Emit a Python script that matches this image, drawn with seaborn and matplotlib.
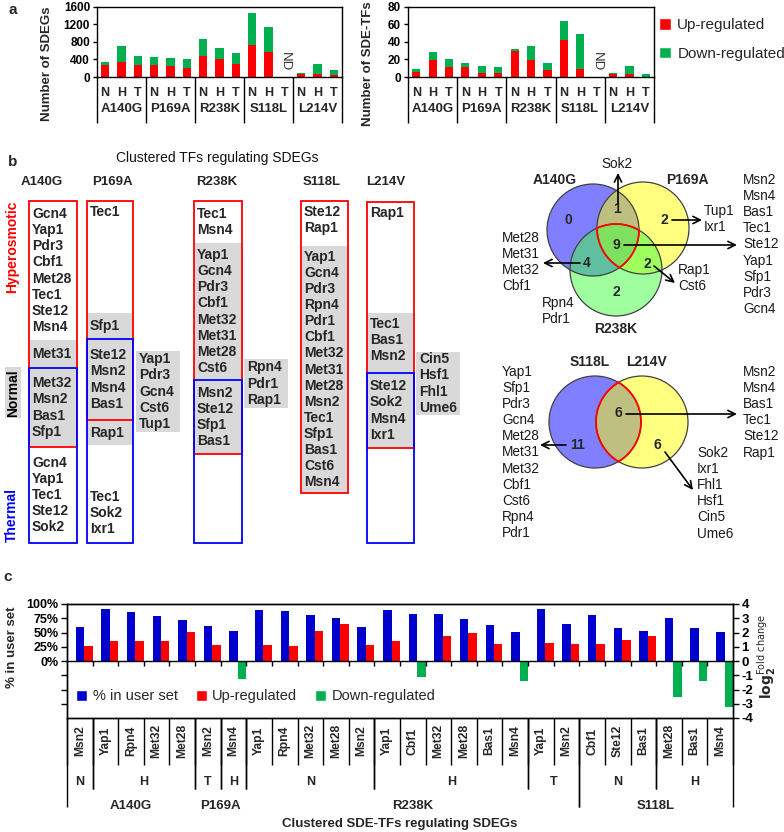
import numpy as np
import pandas as pd
import matplotlib
matplotlib.use('Agg')
import matplotlib.pyplot as plt
import seaborn as sns
from matplotlib.patches import Rectangle, Circle, Patch
from matplotlib.transforms import blended_transform_factory

sns.set_theme(style='ticks')
plt.rcParams['font.family'] = ['Liberation Sans', 'DejaVu Sans']
plt.rcParams['axes.edgecolor'] = 'black'
plt.rcParams['axes.linewidth'] = 1.0
plt.rcParams['xtick.color'] = 'black'
plt.rcParams['ytick.color'] = 'black'

W, H = 784, 832
RED = '#FF0000'
GREEN = '#00B050'
BLUE = '#0000CC'
GREY = '#D9D9D9'

# ---------------- data: panel a ----------------
mutations = ['A140G', 'P169A', 'R238K', 'S118L', 'L214V']
stresses = ['N', 'H', 'T']
sdeg_up = [270, 350, 270, 270, 240, 210, 470, 410, 300, 730, 560, np.nan, 60, 60, 40]
sdeg_total = [350, 700, 490, 460, 430, 400, 860, 660, 550, 1470, 1150, np.nan, 90, 290, 150]
tf_up = [6, 19, 11, 11, 5, 5, 30, 19, 8, 42, 9, np.nan, 4, 4, 0]
tf_total = [9, 28, 21, 16, 12, 11, 32, 35, 16, 64, 49, np.nan, 5, 12, 3]
nd_index = 11

# ---------------- data: panel b ----------------
A140G_hyper_only = ['Gcn4', 'Yap1', 'Pdr3', 'Cbf1', 'Met28', 'Tec1', 'Ste12', 'Msn4']
A140G_hyper_normal = ['Met31']
A140G_all = ['Met32', 'Msn2', 'Bas1', 'Sfp1']
A140G_thermal_only = ['Gcn4', 'Yap1', 'Tec1', 'Ste12', 'Sok2']
P169A_hyper_only = ['Tec1']
P169A_hyper_normal = ['Sfp1']
P169A_all = ['Ste12', 'Msn2', 'Msn4', 'Bas1']
P169A_normal_thermal = ['Rap1']
P169A_thermal_only = ['Tec1', 'Sok2', 'Ixr1']
P169A_normal_only = ['Yap1', 'Pdr3', 'Gcn4', 'Cst6', 'Tup1']
R238K_hyper_only = ['Tec1', 'Msn4']
R238K_hyper_normal = ['Yap1', 'Gcn4', 'Pdr3', 'Cbf1', 'Met32', 'Met31', 'Met28', 'Cst6']
R238K_all = ['Msn2', 'Ste12', 'Sfp1', 'Bas1']
R238K_normal_only = ['Rpn4', 'Pdr1', 'Rap1']
S118L_hyper_only = ['Ste12', 'Rap1']
S118L_hyper_normal = ['Yap1', 'Gcn4', 'Pdr3', 'Rpn4', 'Pdr1', 'Cbf1', 'Met32', 'Met31',
                      'Met28', 'Msn2', 'Tec1', 'Sfp1', 'Bas1', 'Cst6', 'Msn4']
L214V_hyper_only = ['Rap1']
L214V_hyper_normal = ['Tec1', 'Bas1', 'Msn2']
L214V_all = ['Ste12', 'Sok2', 'Msn4', 'Ixr1']
L214V_normal_only = ['Cin5', 'Hsf1', 'Fhl1', 'Ume6']

v1_sets = ['A140G', 'P169A', 'R238K']
v1_A_only = []
v1_AP = ['Sok2']
v1_P_only = ['Tup1', 'Ixr1']
v1_APR = ['Msn2', 'Msn4', 'Bas1', 'Tec1', 'Ste12', 'Yap1', 'Sfp1', 'Pdr3', 'Gcn4']
v1_AR = ['Met28', 'Met31', 'Met32', 'Cbf1']
v1_PR = ['Rap1', 'Cst6']
v1_R_only = ['Rpn4', 'Pdr1']
v2_sets = ['S118L', 'L214V']
v2_S_only = ['Yap1', 'Sfp1', 'Pdr3', 'Gcn4', 'Met28', 'Met31', 'Met32', 'Cbf1', 'Cst6', 'Rpn4', 'Pdr1']
v2_SL = ['Msn2', 'Msn4', 'Bas1', 'Tec1', 'Ste12', 'Rap1']
v2_L_only = ['Sok2', 'Ixr1', 'Fhl1', 'Hsf1', 'Cin5', 'Ume6']

# ---------------- data: panel c ----------------
c_mut = ['A140G'] * 5 + ['P169A'] * 2 + ['R238K'] * 13 + ['S118L'] * 6
c_stress = ['N', 'H', 'H', 'H', 'H', 'T', 'H', 'N', 'N', 'N', 'N', 'N', 'H', 'H', 'H', 'H', 'H', 'H',
            'T', 'T', 'N', 'N', 'N', 'H', 'H', 'H']
c_tf = ['Msn2', 'Yap1', 'Rpn4', 'Met32', 'Met28', 'Msn2', 'Msn4', 'Yap1', 'Rpn4', 'Met32', 'Met28',
        'Msn2', 'Yap1', 'Cbf1', 'Met32', 'Met28', 'Bas1', 'Msn4', 'Yap1', 'Msn2', 'Cbf1', 'Ste12',
        'Bas1', 'Met28', 'Bas1', 'Msn4']
pct_user = [59, 92, 86, 79, 72, 61, 52, 90, 88, 81, 75, 59, 90, 82, 83, 73, 63, 51, 92, 65, 81, 58,
            53, 76, 58, 51]
log2fc = [1.02, 1.37, 1.37, 1.37, 2.01, 1.11, -1.25, 1.11, 1.02, 2.08, 2.63, 1.11, 1.37, -1.13,
          1.76, 1.95, 1.16, -1.42, 1.23, 1.16, 1.16, 1.49, 1.78, -2.55, -1.42, -3.2]
pct_ticks = ['0%', '25%', '50%', '75%', '100%']

# ---------------- figure ----------------
fig = plt.figure(figsize=(W / 100, H / 100), dpi=100)
ax_o = fig.add_axes([0, 0, 1, 1])
ax_o.set_xlim(0, W)
ax_o.set_ylim(H, 0)
ax_o.axis('off')


def add_axes_px(x0, y0, x1, y1):
    return fig.add_axes([x0 / W, 1 - y1 / H, (x1 - x0) / W, (y1 - y0) / H])


def vline(trans, x, y0, y1, lw=1.0):
    ax_o.plot([x, x], [y0, y1], transform=trans, color='black', lw=lw, clip_on=False,
              solid_capstyle='butt')


# ---------------- panel a ----------------
ax_a1 = add_axes_px(97, 7, 342, 77)
ax_a2 = add_axes_px(408, 7, 654, 77)
cond_idx = list(range(len(mutations) * len(stresses)))


def panel_a(ax, up, total, ymax, step):
    df = pd.DataFrame({'idx': cond_idx, 'up': up, 'total': total})
    sns.barplot(data=df, x='idx', y='total', order=cond_idx, color=GREEN, saturation=1,
                width=0.5, errorbar=None, linewidth=0, ax=ax)
    sns.barplot(data=df, x='idx', y='up', order=cond_idx, color=RED, saturation=1,
                width=0.5, errorbar=None, linewidth=0, ax=ax)
    ax.set_xlim(-0.5, len(cond_idx) - 0.5)
    ax.set_ylim(0, ymax)
    ax.set_xticks([])
    ax.set_xlabel('')
    ax.set_ylabel('')
    ticks = np.arange(0, ymax + 1, step)
    ax.set_yticks(ticks)
    ax.set_yticklabels([str(int(t)) for t in ticks], fontweight='bold', fontsize=8.5)
    ax.tick_params(axis='y', length=3, width=1, pad=2)
    for s in ax.spines.values():
        s.set_visible(True)
        s.set_color('black')
    ax.text(nd_index, ymax * 15 / 70, 'ND', rotation=-90, ha='center', va='center',
            fontsize=9.5, color='#333333')
    tr = blended_transform_factory(ax.transData, ax_o.transData)
    for i in cond_idx:
        ax_o.text(i, 93, stresses[i % 3], transform=tr, ha='center', va='center',
                  fontsize=9, fontweight='bold')
    for m, name in enumerate(mutations):
        ax_o.text(3 * m + 1, 109, name, transform=tr, ha='center', va='center',
                  fontsize=9.5, fontweight='bold')
    for m in range(len(mutations) + 1):
        vline(tr, 3 * m - 0.5, 77, 123)


panel_a(ax_a1, sdeg_up, sdeg_total, 1600, 400)
panel_a(ax_a2, tf_up, tf_total, 80, 20)
ax_o.text(47, 64, 'Number of SDEGs', rotation=90, ha='center', va='center',
          fontsize=9.5, fontweight='bold')
ax_o.text(368, 64, 'Number of SDE-TFs', rotation=90, ha='center', va='center',
          fontsize=9.5, fontweight='bold')
ax_o.text(13, 10, 'a', ha='center', va='center', fontsize=11, fontweight='bold')
fig.legend(handles=[Patch(facecolor=RED), Patch(facecolor=GREEN)],
           labels=['Up-regulated', 'Down-regulated'], loc='upper left',
           bbox_to_anchor=(659 / W, 1 - 18 / H), frameon=False, fontsize=11,
           handlelength=0.8, handleheight=0.8, handletextpad=0.4, labelspacing=0.95,
           borderpad=0, borderaxespad=0)

# ---------------- panel b ----------------
ax_o.text(13, 162, 'b', ha='center', va='center', fontsize=11, fontweight='bold')
ax_o.text(217, 158, 'Clustered TFs regulating SDEGs', ha='center', va='center', fontsize=10,
          color='#111111')
header_x = {'A140G': 42, 'P169A': 112, 'R238K': 217, 'S118L': 322, 'L214V': 386}
for name, hx in header_x.items():
    ax_o.text(hx, 182, name, ha='center', va='center', fontsize=9.5, fontweight='bold')

SP = 16.1
b_layout = {
    'A140G': dict(x=(29, 77), red=(201, 447), blue=(368, 543), grey=(340, 447),
                  segs=[(A140G_hyper_only, 201, 340, 'c'), (A140G_hyper_normal, 340, 368, 'c'),
                        (A140G_all, 368, 447, 'c'), (A140G_thermal_only, 447, 543, 'c')]),
    'P169A': dict(x=(87, 133), red=(201, 420), blue=(339, 543), grey=(313, 445),
                  segs=[(P169A_hyper_only, 201, 313, 't'), (P169A_hyper_normal, 313, 339, 'c'),
                        (P169A_all, 339, 420, 'c'), (P169A_normal_thermal, 420, 447, 'c'),
                        (P169A_thermal_only, 445, 543, 'b')],
                  normal=(P169A_normal_only, 136, 180, 351, 432)),
    'R238K': dict(x=(194, 242), red=(201, 454), blue=(380, 543), grey=(243, 454),
                  segs=[(R238K_hyper_only, 201, 243, 'c'), (R238K_hyper_normal, 243, 380, 'c'),
                        (R238K_all, 380, 454, 'c')],
                  normal=(R238K_normal_only, 244, 288, 359, 408)),
    'S118L': dict(x=(301, 348), red=(201, 493), blue=None, grey=(246, 493),
                  segs=[(S118L_hyper_only, 201, 246, 't'), (S118L_hyper_normal, 246, 493, 'c')]),
    'L214V': dict(x=(367, 414), red=(202, 448), blue=(373, 543), grey=(313, 448),
                  segs=[(L214V_hyper_only, 202, 313, 't'), (L214V_hyper_normal, 313, 373, 't'),
                        (L214V_all, 373, 448, 'c')],
                  normal=(L214V_normal_only, 416, 460, 352, 415)),
}


def text_rows(names, y0, y1, align):
    n = len(names)
    if align == 't':
        first = y0 + 11
    elif align == 'b':
        first = y1 - 14 - (n - 1) * SP
    else:
        first = (y0 + y1) / 2 - (n - 1) * SP / 2
    return [first + k * SP for k in range(n)]


for name, L in b_layout.items():
    x0, x1 = L['x']
    g0, g1 = L['grey']
    ax_o.add_patch(Rectangle((x0, g0), x1 - x0, g1 - g0, facecolor=GREY, edgecolor='none'))
    r0, r1 = L['red']
    ax_o.add_patch(Rectangle((x0, r0), x1 - x0, r1 - r0, facecolor='none', edgecolor=RED, lw=1.3))
    if L['blue'] is not None:
        b0, b1 = L['blue']
        ax_o.add_patch(Rectangle((x0, b0), x1 - x0, b1 - b0, facecolor='none',
                                 edgecolor='#0000FF', lw=1.3))
    for names, y0, y1, al in L['segs']:
        for nm, yy in zip(names, text_rows(names, y0, y1, al)):
            ax_o.text(x0 + 3, yy, nm, ha='left', va='center', fontsize=10, fontweight='bold')
    if 'normal' in L:
        names, nx0, nx1, ny0, ny1 = L['normal']
        ax_o.add_patch(Rectangle((nx0, ny0), nx1 - nx0, ny1 - ny0, facecolor=GREY, edgecolor='none'))
        for nm, yy in zip(names, text_rows(names, ny0, ny1, 'c')):
            ax_o.text(nx0 + 3, yy, nm, ha='left', va='center', fontsize=10, fontweight='bold')

ax_o.text(12, 247, 'Hyperosmotic', rotation=90, ha='center', va='center', fontsize=10,
          fontweight='bold', color=RED)
ax_o.add_patch(Rectangle((5, 367), 16, 51, facecolor=GREY, edgecolor='none'))
ax_o.text(13, 393, 'Normal', rotation=90, ha='center', va='center', fontsize=10,
          fontweight='bold', color='black')
ax_o.text(12, 515, 'Thermal', rotation=90, ha='center', va='center', fontsize=10,
          fontweight='bold', color='#0000FF')


# ---- Venn diagrams ----
def draw_circles(circles, colors):
    for (cx, cy, r), c in zip(circles, colors):
        ax_o.add_patch(Circle((cx, cy), r, facecolor=c + (0.5,), edgecolor='none'))
    for (cx, cy, r) in circles:
        ax_o.add_patch(Circle((cx, cy), r, facecolor='none', edgecolor='#404040', lw=0.9))


def red_outline(circles):
    t = np.linspace(0, 2 * np.pi, 1441)
    for i, (cx, cy, r) in enumerate(circles):
        px, py = cx + r * np.cos(t), cy + r * np.sin(t)
        mask = np.ones_like(t, dtype=bool)
        for j, (cx2, cy2, r2) in enumerate(circles):
            if j != i:
                mask &= (px - cx2) ** 2 + (py - cy2) ** 2 <= r2 ** 2 + 1e-6
        ax_o.plot(np.where(mask, px, np.nan), np.where(mask, py, np.nan), color=RED, lw=1.3)


def arrow(x0, y0, x1, y1):
    ax_o.annotate('', xy=(x1, y1), xytext=(x0, y0),
                  arrowprops=dict(arrowstyle='->', lw=1.2, color='black', mutation_scale=13,
                                  shrinkA=0, shrinkB=0))


def text_list(names, x, y, ha='left'):
    for k, nm in enumerate(names):
        ax_o.text(x, y + k * SP, nm, ha=ha, va='center', fontsize=9.8, color='#1a1a1a')


v1_circles = [(593, 230, 46), (643, 228, 46), (616, 270, 46)]
draw_circles(v1_circles, [(0, 0, 1), (1, 1, 0), (0.25, 1, 0.25)])
red_outline(v1_circles)
ax_o.text(555, 180, v1_sets[0], ha='center', va='center', fontsize=10, fontweight='bold')
ax_o.text(687, 180, v1_sets[1], ha='center', va='center', fontsize=10, fontweight='bold')
ax_o.text(616, 329, v1_sets[2], ha='center', va='center', fontsize=10, fontweight='bold')
v1_counts = [(v1_A_only, 568, 220), (v1_AP, 617, 209), (v1_P_only, 664, 220),
             (v1_APR, 616, 245), (v1_AR, 587, 263), (v1_PR, 647, 264), (v1_R_only, 616, 292)]
for names, cx, cy in v1_counts:
    ax_o.text(cx, cy, str(len(names)), ha='center', va='center', fontsize=10, fontweight='bold')
arrow(618, 203, 618, 173)
arrow(672, 220, 702, 220)
arrow(624, 245, 737, 245)
arrow(580, 263, 543, 263)
arrow(654, 266, 675, 283)
text_list(v1_AP, 617, 164, ha='center')
text_list(v1_P_only, 704, 211)
text_list(v1_APR, 743, 180)
text_list(v1_AR, 502, 238)
text_list(v1_PR, 678, 270)
text_list(v1_R_only, 542, 303)

v2_circles = [(595, 422, 46), (642, 422, 46)]
draw_circles(v2_circles, [(0, 0, 1), (1, 1, 0)])
red_outline(v2_circles)
ax_o.text(590, 362, v2_sets[0], ha='center', va='center', fontsize=10, fontweight='bold')
ax_o.text(647, 362, v2_sets[1], ha='center', va='center', fontsize=10, fontweight='bold')
for names, cx, cy in [(v2_SL, 618, 413), (v2_S_only, 578, 445), (v2_L_only, 657, 445)]:
    ax_o.text(cx, cy, str(len(names)), ha='center', va='center', fontsize=10, fontweight='bold')
arrow(626, 414, 737, 414)
arrow(566, 445, 540, 445)
arrow(665, 452, 693, 490)
text_list(v2_S_only, 502, 372)
text_list(v2_SL, 743, 372)
text_list(v2_L_only, 697, 453)

# ---------------- panel c ----------------
ax_c = add_axes_px(67, 604, 733, 718)
n_c = len(c_tf)
c_idx = list(range(n_c))
dfc = pd.DataFrame({'idx': c_idx * 2,
                    'series': ['% in user set'] * n_c + ['log2 fold change'] * n_c,
                    'value': [p / 25 for p in pct_user] + log2fc})
sns.barplot(data=dfc, x='idx', y='value', hue='series', order=c_idx,
            hue_order=['% in user set', 'log2 fold change'], palette=[BLUE, RED],
            width=0.66, saturation=1, errorbar=None, linewidth=0, legend=False, ax=ax_c)
for bar in ax_c.containers[1]:
    if bar.get_height() < 0:
        bar.set_facecolor(GREEN)
d = 0.17
ax_c.set_xlim(-0.5 - d, n_c - 0.5 - d)
ax_c.set_ylim(-4, 4)
ax_c.set_xticks([])
ax_c.set_xlabel('')
ax_c.set_ylabel('')
ax_c.axhline(0, color='black', lw=1.0, zorder=5)
ax_c.vlines([k - 0.5 - d for k in range(1, n_c)], -0.35, 0, color='black', lw=1.0, zorder=5)
ax_c.set_yticks(np.arange(-3, 5))
ax_c.set_yticklabels([''] * 3 + pct_ticks, fontweight='bold', fontsize=9)
ax_c.tick_params(axis='y', length=4, width=1, pad=2)
for s in ax_c.spines.values():
    s.set_visible(True)
    s.set_color('black')
ax_r = ax_c.twinx()
ax_r.set_ylim(-4, 4)
ax_r.set_yticks(np.arange(-4, 5))
ax_r.set_yticklabels([str(v) for v in range(-4, 5)], fontweight='bold', fontsize=9.5)
ax_r.tick_params(axis='y', length=4, width=1, pad=2)
ax_c.legend(handles=[Patch(facecolor=BLUE), Patch(facecolor=RED), Patch(facecolor=GREEN)],
            labels=['% in user set', 'Up-regulated', 'Down-regulated'], ncol=3,
            loc='center left', bbox_to_anchor=(0.014, 0.19), frameon=False, fontsize=10.5,
            handlelength=0.75, handleheight=0.75, handletextpad=0.4, columnspacing=1.2,
            borderpad=0, borderaxespad=0)

trc = blended_transform_factory(ax_c.transData, ax_o.transData)
for k, nm in enumerate(c_tf):
    ax_o.text(k - d, 741, nm, transform=trc, rotation=90, ha='center', va='center',
              fontsize=8.7, fontweight='bold')


def runs(keys):
    out = []
    start = 0
    for k in range(1, len(keys) + 1):
        if k == len(keys) or keys[k] != keys[start]:
            out.append((start, k, keys[start]))
            start = k
    return out


long_lines = {0, 20, n_c}
for k in range(n_c + 1):
    vline(trc, k - 0.5 - d, 718, 765)
stress_runs = runs(list(zip(c_mut, c_stress)))
for s0, s1, key in stress_runs:
    ax_o.text((s0 + s1 - 1) / 2 - d, 782, key[1], transform=trc, ha='center', va='center',
              fontsize=9, fontweight='bold')
    for b in (s0, s1):
        vline(trc, b - 0.5 - d, 718, 807 if b in long_lines else 789)
for s0, s1, key in runs(c_mut):
    ax_o.text((s0 + s1 - 1) / 2 - d, 806, key, transform=trc, ha='center', va='center',
              fontsize=9.5, fontweight='bold')

ax_o.text(400, 824, 'Clustered SDE-TFs regulating SDEGs', ha='center', va='center',
          fontsize=9.5, fontweight='bold')
ax_o.text(12, 647, '% in user set', rotation=90, ha='center', va='center', fontsize=9.5,
          fontweight='bold')
ax_o.text(767, 656, r'$\mathbf{log}_{\mathbf{2}}^{\mathrm{Fold\ change}}$', rotation=90,
          ha='center', va='center', fontsize=10)
ax_o.text(8, 577, 'c', ha='center', va='center', fontsize=11, fontweight='bold')

fig.savefig('out.png', dpi=100)
